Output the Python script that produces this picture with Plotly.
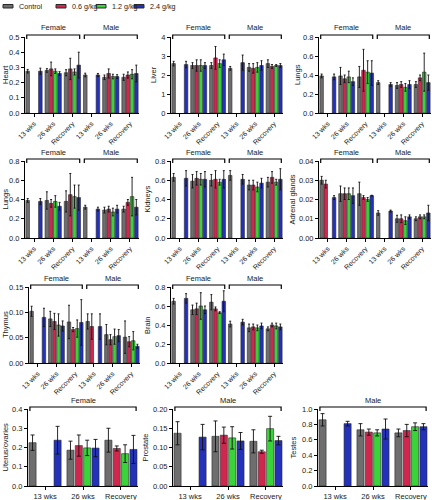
import plotly.graph_objects as go

W, H = 432, 500
doses = ["Control", "0.6 g/kg", "1.2 g/kg", "2.4 g/kg"]
colors = ["#6e6e6e", "#d0274f", "#3ad43a", "#2332b8"]
groups6 = ["13 wks", "26 wks", "Recovery", "13 wks", "26 wks", "Recovery"]
groups3 = ["13 wks", "26 wks", "Recovery"]

heart_mean = [[0.275, 0.28, 0.265, 0.25, 0.235, 0.235],
              [None, 0.29, 0.29, None, 0.26, 0.25],
              [None, 0.275, 0.27, None, 0.24, 0.255],
              [0.275, 0.26, 0.315, 0.25, 0.24, 0.26]]
heart_sd = [[0.012, 0.012, 0.02, 0.012, 0.015, 0.02],
            [0, 0.045, 0.07, 0, 0.03, 0.02],
            [0, 0.015, 0.02, 0, 0.015, 0.03],
            [0.02, 0.012, 0.085, 0.01, 0.012, 0.055]]
liver_mean = [[2.6, 2.5, 2.5, 2.35, 2.4, 2.6],
              [None, 2.5, 2.9, None, 2.35, 2.45],
              [None, 2.5, 2.6, None, 2.4, 2.5],
              [2.55, 2.5, 2.8, 2.65, 2.5, 2.5]]
liver_sd = [[0.12, 0.15, 0.15, 0.1, 0.2, 0.2],
            [0, 0.3, 0.6, 0, 0.25, 0.1],
            [0, 0.3, 0.2, 0, 0.25, 0.05],
            [0.17, 0.15, 0.3, 0.4, 0.25, 0.1]]
lungs_mean = [[0.39, 0.39, 0.38, 0.32, 0.29, 0.30],
              [None, 0.36, 0.45, None, 0.30, 0.37],
              [None, 0.38, 0.43, None, 0.27, 0.43],
              [0.38, 0.33, 0.42, 0.30, 0.30, 0.32]]
lungs_sd = [[0.02, 0.09, 0.11, 0.02, 0.03, 0.03],
            [0, 0.04, 0.22, 0, 0.03, 0.03],
            [0, 0.06, 0.12, 0, 0.04, 0.2],
            [0.03, 0.04, 0.13, 0.02, 0.04, 0.08]]
kidneys_mean = [[0.63, 0.59, 0.60, 0.65, 0.55, 0.58],
                [None, 0.62, 0.61, None, 0.55, 0.63],
                [None, 0.61, 0.58, None, 0.53, 0.58],
                [0.62, 0.61, 0.61, 0.61, 0.57, 0.61]]
kidneys_sd = [[0.04, 0.07, 0.06, 0.05, 0.05, 0.05],
              [0, 0.07, 0.09, 0, 0.05, 0.06],
              [0, 0.06, 0.03, 0, 0.05, 0.03],
              [0.08, 0.08, 0.09, 0.05, 0.05, 0.11]]
adrenal_mean = [[0.030, 0.023, 0.023, 0.013, 0.010, 0.010],
                [0.028, 0.023, 0.021, None, 0.010, 0.011],
                [None, 0.023, 0.020, None, 0.009, 0.011],
                [0.021, 0.022, 0.022, 0.014, 0.011, 0.013]]
adrenal_sd = [[0.002, 0.004, 0.006, 0.0012, 0.0018, 0.001],
              [0.002, 0.003, 0.001, 0, 0.002, 0.001],
              [0, 0.003, 0.001, 0, 0.002, 0.001],
              [0.001, 0.004, 0.0002, 0.0005, 0.001, 0.004]]
thymus_mean = [[0.102, 0.087, 0.081, 0.082, 0.056, 0.051],
               [None, 0.082, 0.066, 0.072, 0.046, 0.042],
               [None, 0.075, 0.068, None, 0.052, 0.044],
               [0.090, 0.073, 0.080, 0.072, 0.054, 0.033]]
thymus_sd = [[0.01, 0.015, 0.033, 0.015, 0.02, 0.032],
             [0, 0.016, 0.004, 0.025, 0.01, 0.01],
             [0, 0.022, 0.017, 0, 0.015, 0.018],
             [0.018, 0.01, 0.045, 0.025, 0.012, 0.004]]
brain_mean = [[0.65, 0.56, 0.64, 0.41, 0.37, 0.36],
              [None, 0.57, 0.57, None, 0.38, 0.40],
              [None, 0.60, 0.53, None, 0.37, 0.39],
              [0.68, 0.56, 0.65, 0.43, 0.39, 0.38]]
brain_sd = [[0.03, 0.05, 0.08, 0.03, 0.04, 0.02],
            [0, 0.06, 0.02, 0, 0.03, 0.02],
            [0, 0.14, 0.01, 0, 0.03, 0.03],
            [0.05, 0.04, 0.11, 0.03, 0.03, 0.03]]
uterus_mean = [[0.225, 0.186, 0.238], [None, 0.21, 0.195],
               [None, 0.198, 0.168], [0.238, 0.197, 0.19]]
uterus_sd = [[0.04, 0.047, 0.062], [0, 0.055, 0.013],
             [0, 0.04, 0.046], [0.072, 0.045, 0.073]]
prostate_mean = [[0.137, 0.129, 0.116], [None, 0.132, 0.089],
                 [None, 0.125, 0.149], [0.127, 0.117, 0.118]]
prostate_sd = [[0.03, 0.04, 0.03], [0, 0.021, 0.004],
               [0, 0.029, 0.032], [0.033, 0.022, 0.011]]
testes_mean = [[0.86, 0.73, 0.69], [None, 0.70, 0.72],
               [None, 0.69, 0.77], [0.81, 0.74, 0.77]]
testes_sd = [[0.08, 0.08, 0.05], [0, 0.04, 0.08],
             [0, 0.04, 0.05], [0.03, 0.13, 0.04]]

rows = {1: (37, 113), 2: (161, 238), 3: (287, 363), 4: (409, 486)}
cols = {1: (25, 139), 2: (171, 283), 3: (319, 431)}
col_thymus = (29, 140)
cols4 = {1: (28, 138), 2: (173, 283), 3: (318, 428)}
sex6 = [("Female", -0.38, 2.38), ("Male", 2.62, 5.38)]

# (title, mean, sd, ymax, dtick, fmt, x-px, y-px, title x-px, groups, brackets)
panels = [
    ("Heart", heart_mean, heart_sd, 0.5, 0.1, ".1f", cols[1], rows[1], 5, groups6, sex6),
    ("Liver", liver_mean, liver_sd, 4, 1, "d", cols[2], rows[1], 153, groups6, sex6),
    ("Lungs", lungs_mean, lungs_sd, 0.8, 0.2, ".1f", cols[3], rows[1], 297, groups6, sex6),
    ("Lungs", lungs_mean, lungs_sd, 0.8, 0.2, ".1f", cols[1], rows[2], 5, groups6, sex6),
    ("Kidneys", kidneys_mean, kidneys_sd, 0.8, 0.2, ".1f", cols[2], rows[2], 147, groups6, sex6),
    ("Adrenal glands", adrenal_mean, adrenal_sd, 0.04, 0.01, ".2f", cols[3], rows[2], 292, groups6, sex6),
    ("Thymus", thymus_mean, thymus_sd, 0.15, 0.05, ".2f", col_thymus, rows[3], 5, groups6, sex6),
    ("Brain", brain_mean, brain_sd, 0.8, 0.2, ".1f", cols[2], rows[3], 147, groups6, sex6),
    ("Uterus/ovaries", uterus_mean, uterus_sd, 0.4, 0.1, ".1f", cols4[1], rows[4], 5, groups3, [("Female", -0.4, 2.4)]),
    ("Prostate", prostate_mean, prostate_sd, 0.20, 0.05, ".2f", cols4[2], rows[4], 145, groups3, [("Male", -0.4, 2.4)]),
    ("Testes", testes_mean, testes_sd, 1.0, 0.2, ".1f", cols4[3], rows[4], 293, groups3, [("Male", -0.4, 2.4)]),
]

fig = go.Figure()
shapes = []
annotations = []
font = "Liberation Sans, Arial, sans-serif"
txt = "#222222"
layout_axes = {}

for i, (title, mean, sd, ymax, dtick, fmt, xpx, ypx, tx, groups, brackets) in enumerate(panels, start=1):
    sfx = "" if i == 1 else str(i)
    xa, ya = "x" + sfx, "y" + sfx
    n = len(groups)
    xs = list(range(n))
    small = n == 6
    for d in range(4):
        fig.add_trace(go.Bar(
            x=xs, y=mean[d], name=doses[d], xaxis=xa, yaxis=ya, showlegend=False,
            marker=dict(color=colors[d], line=dict(color="#2a2a2a", width=0.6)),
            error_y=dict(type="data", array=sd[d], visible=True, color="#111111",
                         thickness=0.9, width=1 if small else 2),
        ))
    hpx = ypx[1] - ypx[0]
    layout_axes["xaxis" + sfx] = dict(
        domain=[xpx[0] / W, xpx[1] / W], anchor=ya, automargin=False,
        range=[-0.47, n - 0.53] if small else [-0.45, n - 0.55],
        tickvals=xs, ticktext=groups, tickangle=-45 if small else 0,
        showline=True, linecolor="black", linewidth=1, ticks="outside", ticklen=3,
        tickcolor="black", tickfont=dict(size=7 if small else 7.5, color=txt),
        showgrid=False, zeroline=False, fixedrange=True,
    )
    layout_axes["yaxis" + sfx] = dict(
        domain=[1 - ypx[1] / H, 1 - ypx[0] / H], anchor=xa, automargin=False,
        range=[0, ymax], dtick=dtick,
        tickformat=fmt, showline=True, linecolor="black", linewidth=1, ticks="outside",
        ticklen=3, tickcolor="black", tickfont=dict(size=7.5, color=txt), showgrid=False,
        zeroline=False, fixedrange=True,
    )
    # y-axis title
    annotations.append(dict(text=title, xref="paper", yref="paper", x=tx / W,
                            y=1 - (ypx[0] + ypx[1]) / 2 / H, textangle=-90, showarrow=False,
                            xanchor="center", yanchor="middle",
                            font=dict(size=7.5, color=txt)))
    for label, x0, x1 in brackets:
        yt = 1 + 2 / hpx
        yb = 1 - 2 / hpx
        shapes.append(dict(type="path", xref=xa, yref=ya + " domain",
                           path=f"M {x0},{yb} L {x0},{yt} L {x1},{yt} L {x1},{yb}",
                           line=dict(color="black", width=1.2)))
        annotations.append(dict(text=label, xref=xa, yref=ya + " domain", x=(x0 + x1) / 2,
                                y=1 + 9 / hpx, showarrow=False, yanchor="middle",
                                font=dict(size=7.5, color=txt)))

# custom legend
leg_x = [3, 56, 96, 134]
for d in range(4):
    x0 = leg_x[d]
    shapes.append(dict(type="rect", xref="paper", yref="paper",
                       x0=x0 / W, x1=(x0 + 10) / W, y0=1 - 8 / H, y1=1 - 4.5 / H,
                       fillcolor=colors[d], line=dict(color="#2a2a2a", width=1)))
    annotations.append(dict(text=doses[d], xref="paper", yref="paper", x=(x0 + 14) / W,
                            y=1 - 6.5 / H, xanchor="left", yanchor="middle", showarrow=False,
                            font=dict(size=7.2, color=txt)))

fig.update_layout(
    template="none",
    width=W, height=H, margin=dict(l=0, r=0, t=0, b=0, pad=0, autoexpand=False),
    paper_bgcolor="white", plot_bgcolor="white",
    barmode="group", bargap=0.12, bargroupgap=0.15,
    font=dict(family=font, color=txt),
    shapes=shapes, annotations=annotations, showlegend=False,
    **layout_axes,
)

fig.write_html("out.html", config={"displayModeBar": False},
               post_script="document.body.style.margin='0px';document.body.style.overflow='hidden';")
